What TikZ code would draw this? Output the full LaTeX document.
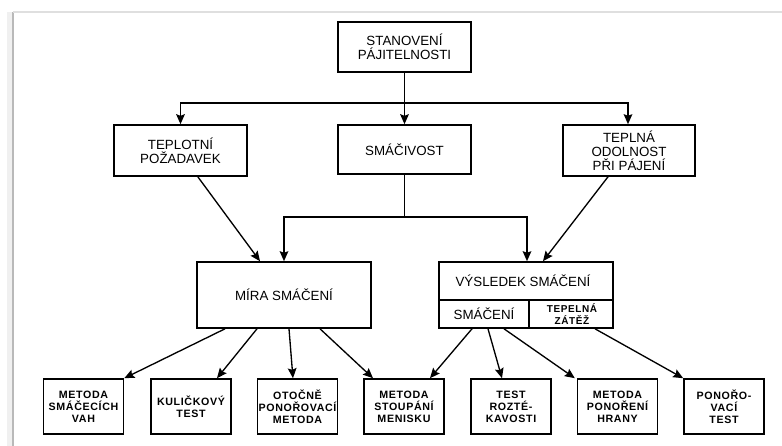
\documentclass[tikz,border=0pt]{standalone}
\usepackage{fontspec}
\setmainfont{Liberation Sans}
\usetikzlibrary{arrows.meta, positioning}

\begin{document}
\begin{tikzpicture}[x=0.75pt, y=-0.75pt,
    box/.style={draw, line width=1.2pt, align=center, inner sep=0pt,
        font=\fontsize{10}{10.5}\selectfont},
    leaf/.style={box, minimum width=60pt, minimum height=41.25pt,
        font=\fontsize{8}{9}\selectfont\bfseries\addfontfeatures{LetterSpace=6}},
    arr/.style={-{Stealth[length=7.5pt, width=6.5pt, inset=1.2pt]}, line width=1pt}]
    \useasboundingbox (0,0) rectangle (782,446);

    % Page frame with shadow
    \fill[gray!12] (7,12) rectangle (13,446);
    \draw[gray!55, line width=1.3pt] (13,446) -- (13,12);
    \draw[gray!25, line width=0.8pt] (13,12) -- (782,12);

    % Top level
    \node[box, minimum width=99.75pt, minimum height=37.5pt] (top) at (404.5,47)
        {STANOVENÍ\\PÁJITELNOSTI};

    % Second level
    \node[box, minimum width=99.75pt, minimum height=38.25pt] (teplot) at (180.5,150.5)
        {TEPLOTNÍ\\POŽADAVEK};
    \node[box, minimum width=99.75pt, minimum height=36.75pt] (smac) at (404.5,149.5)
        {SMÁČIVOST};
    \node[box, minimum width=99pt, minimum height=38.25pt] (teplna) at (629,150.5)
        {TEPLNÁ\\ODOLNOST\\PŘI PÁJENÍ};

    % Third level
    \node[box, minimum width=130.5pt, minimum height=49.5pt] (mira) at (284,295)
        {MÍRA SMÁČENÍ};
    \node[box, minimum width=130.5pt, minimum height=49.5pt] (vysl) at (526,295) {};
    \node[font=\fontsize{10}{10.5}\selectfont] (vyslTitle) at (523,281) {VÝSLEDEK SMÁČENÍ};
    \coordinate (div) at (529,300);
    \draw[line width=1.2pt] (vysl.west |- div) -- (vysl.east |- div);
    \draw[line width=1.2pt] (div) -- (div |- vysl.south);
    \node[font=\fontsize{10}{10.5}\selectfont] (vyslSm) at (484,314) {SMÁČENÍ};
    \node[align=center, font=\fontsize{7.5}{8.5}\selectfont\bfseries\addfontfeatures{LetterSpace=6}]
        (vyslTz) at (572,314) {TEPELNÁ\\ZÁTĚŽ};

    % Methods
    \foreach \n/\x/\txt in {m1/83.5/{METODA\\SMÁČECÍCH\\VAH},
                            m2/191/{KULIČKOVÝ\\TEST},
                            m3/297.5/{OTOČNĚ\\PONOŘOVACÍ\\METODA},
                            m4/404/{METODA\\STOUPÁNÍ\\MENISKU},
                            m5/511/{TEST\\ROZTÉ-\\KAVOSTI},
                            m6/617.5/{METODA\\PONOŘENÍ\\HRANY},
                            m7/724/{PONOŘO-\\VACÍ\\TEST}} {
        \node[leaf] (\n) at (\x,406.5) {\txt};
    }

    % Arrows from top
    \coordinate (split) at (404.5,103);
    \draw[arr] (top.south) -- (smac.north);
    \draw[arr] (split) -| (teplot.north);
    \draw[arr] (split) -| ([xshift=-0.75pt]teplna.north);

    % Arrows into third level
    \coordinate (join) at (404.5,217);
    \draw[line width=1pt] (smac.south) -- (join);
    \draw[arr] (join) -| (mira.north);
    \draw[arr] (join) -| ([xshift=0.75pt]vysl.north);
    \draw[arr] ([xshift=13pt]teplot.south) -- ([xshift=-18pt]mira.north);
    \draw[arr] ([xshift=-15.75pt]teplna.south) -- ([xshift=12.75pt]vysl.north);

    % Arrows to methods
    \draw[arr] ([xshift=-44.25pt]mira.south) -- (m1.north east);
    \draw[arr] ([xshift=-20.25pt]mira.south) -- ([xshift=19.5pt]m2.north);
    \draw[arr] ([xshift=3.75pt]mira.south) -- ([xshift=-3.4pt]m3.north);
    \draw[arr] ([xshift=27pt]mira.south) -- ([xshift=-23.25pt]m4.north);
    \draw[arr] ([xshift=-40.5pt]vysl.south) -- ([xshift=19.5pt]m4.north);
    \draw[arr] ([xshift=-28.5pt]vysl.south) -- ([xshift=-6.75pt]m5.north);
    \draw[arr] ([xshift=-16.5pt]vysl.south) -- ([xshift=-32pt]m6.north);
    \draw[arr] ([xshift=51.75pt]vysl.south) -- (m7.north west);
\end{tikzpicture}
\end{document}
